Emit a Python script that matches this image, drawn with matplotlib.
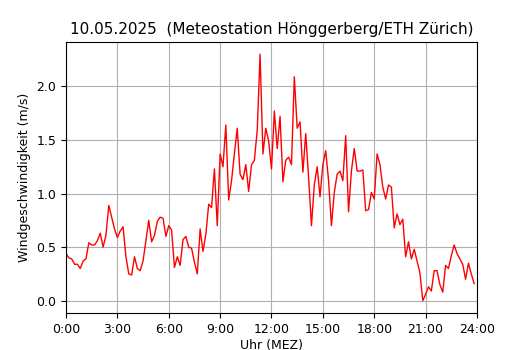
import numpy as np
import matplotlib
matplotlib.use("Agg")
import matplotlib.pyplot as plt
from matplotlib.ticker import FuncFormatter, MultipleLocator

title = "10.05.2025  (Meteostation Hönggerberg/ETH Zürich)"
xlabel = "Uhr (MEZ)"
ylabel = "Windgeschwindigkeit (m/s)"

# 10-minute wind speed values (m/s), one row per hour 0:00 .. 23:50
wind_h00 = [0.44, 0.40, 0.39, 0.34, 0.34, 0.30]
wind_h01 = [0.37, 0.39, 0.54, 0.52, 0.52, 0.56]
wind_h02 = [0.63, 0.50, 0.61, 0.89, 0.78, 0.67]
wind_h03 = [0.59, 0.65, 0.69, 0.41, 0.25, 0.24]
wind_h04 = [0.41, 0.30, 0.28, 0.37, 0.56, 0.75]
wind_h05 = [0.55, 0.61, 0.74, 0.78, 0.77, 0.60]
wind_h06 = [0.70, 0.66, 0.31, 0.41, 0.33, 0.57]
wind_h07 = [0.60, 0.50, 0.49, 0.36, 0.25, 0.67]
wind_h08 = [0.46, 0.62, 0.90, 0.87, 1.23, 0.70]
wind_h09 = [1.37, 1.25, 1.64, 0.94, 1.12, 1.37]
wind_h10 = [1.61, 1.18, 1.13, 1.27, 1.02, 1.27]
wind_h11 = [1.31, 1.59, 2.30, 1.37, 1.61, 1.49]
wind_h12 = [1.23, 1.77, 1.42, 1.72, 1.11, 1.31]
wind_h13 = [1.34, 1.27, 2.09, 1.61, 1.67, 1.20]
wind_h14 = [1.56, 1.15, 0.70, 1.08, 1.25, 0.97]
wind_h15 = [1.27, 1.40, 1.12, 0.70, 1.01, 1.18]
wind_h16 = [1.21, 1.12, 1.54, 0.83, 1.21, 1.42]
wind_h17 = [1.21, 1.21, 1.22, 0.84, 0.85, 1.01]
wind_h18 = [0.95, 1.37, 1.27, 1.06, 0.95, 1.08]
wind_h19 = [1.06, 0.68, 0.81, 0.71, 0.76, 0.41]
wind_h20 = [0.55, 0.39, 0.48, 0.37, 0.26, 0.00]
wind_h21 = [0.06, 0.13, 0.09, 0.28, 0.28, 0.15]
wind_h22 = [0.08, 0.33, 0.30, 0.42, 0.52, 0.44]
wind_h23 = [0.39, 0.34, 0.20, 0.35, 0.25, 0.16]

wind = (wind_h00 + wind_h01 + wind_h02 + wind_h03 + wind_h04 + wind_h05 +
        wind_h06 + wind_h07 + wind_h08 + wind_h09 + wind_h10 + wind_h11 +
        wind_h12 + wind_h13 + wind_h14 + wind_h15 + wind_h16 + wind_h17 +
        wind_h18 + wind_h19 + wind_h20 + wind_h21 + wind_h22 + wind_h23)

hours = np.arange(len(wind)) * (10 / 60)

fig = plt.figure(figsize=(5.3, 3.5), dpi=100)
ax = fig.add_axes([0.1245, 0.1057, 0.7755, 0.7743])
ax.plot(hours, wind, color="red", linewidth=1.0)
ax.set_xlim(0, 24)
ax.xaxis.set_major_locator(MultipleLocator(3))
ax.xaxis.set_major_formatter(FuncFormatter(lambda v, p: f"{int(v)}:00"))
ax.yaxis.set_major_locator(MultipleLocator(0.5))
ax.grid(True, color="#b0b0b0", linewidth=0.8)
ax.set_title(title, fontsize=11)
ax.set_xlabel(xlabel, fontsize=9, labelpad=2)
ax.set_ylabel(ylabel, fontsize=9)
ax.tick_params(labelsize=9)
fig.savefig("out.png", dpi=100)
